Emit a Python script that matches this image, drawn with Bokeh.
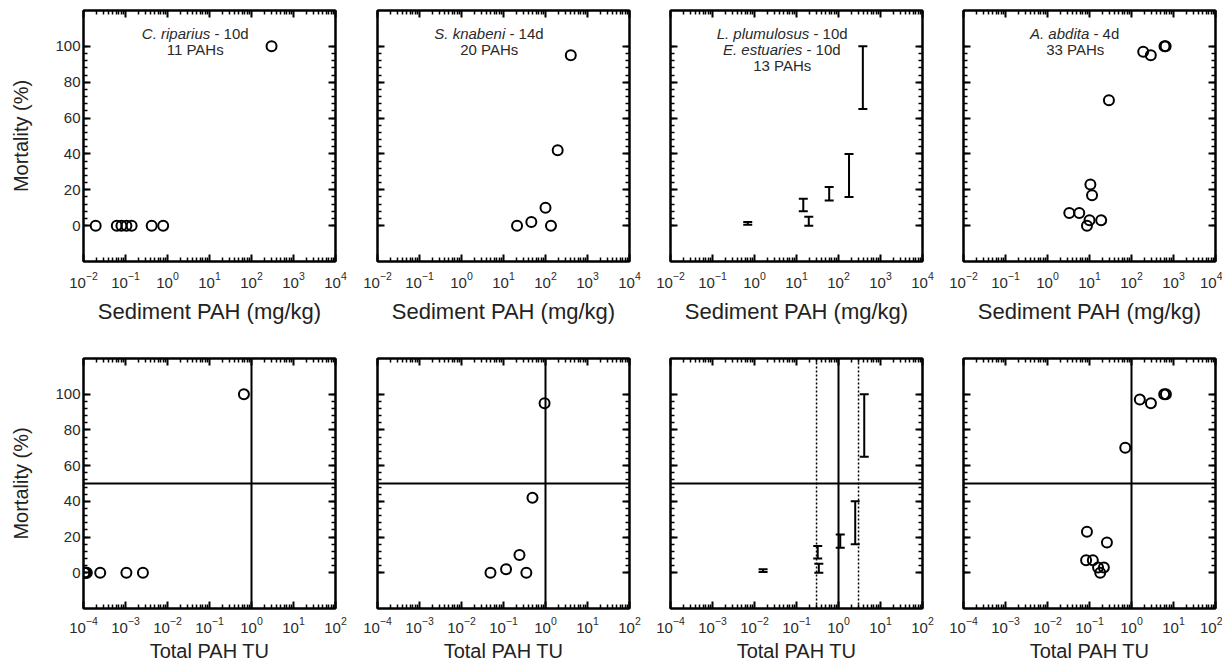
from bokeh.plotting import figure
from bokeh.layouts import column, row
from bokeh.models import (FixedTicker, LogAxis, LinearAxis, Span, Label,
                          Whisker, TeeHead, ColumnDataSource)
from bokeh.embed import file_html
from bokeh.resources import INLINE

FONT = "Liberation Sans"

# ---------------- data ----------------
sed_range = (1e-2, 1e4)
tu_range = (1e-4, 1e2)
sed_ticks = [1e-2, 1e-1, 1e0, 1e1, 1e2, 1e3, 1e4]
tu_ticks = [1e-4, 1e-3, 1e-2, 1e-1, 1e0, 1e1, 1e2]
mort_ticks = [0, 20, 40, 60, 80, 100]
mort_minor = list(range(0, 101, 4))

# C. riparius
crip_sed_x = [0.0195, 0.062, 0.08, 0.105, 0.14, 0.42, 0.79, 300]
crip_sed_y = [0, 0, 0, 0, 0, 0, 0, 100]
crip_tu_x = [1.05e-4, 1.1e-4, 1.15e-4, 1.2e-4, 2.5e-4, 1.05e-3, 2.6e-3, 0.66]
crip_tu_y = [0, 0, 0, 0, 0, 0, 0, 100]

# S. knabeni
skn_sed_x = [21, 46, 100, 135, 195, 400]
skn_sed_y = [0, 2, 10, 0, 42, 95]
skn_tu_x = [0.049, 0.115, 0.24, 0.35, 0.49, 0.95]
skn_tu_y = [0, 2, 10, 0, 42, 95]

# L. plumulosus / E. estuaries (ranges)
lpl_sed_x = [0.69, 14.5, 19.6, 60, 178, 380]
lpl_tu_x = [0.016, 0.32, 0.34, 1.1, 2.5, 4.1]
lpl_lo = [0.5, 8, 0, 14, 16, 65]
lpl_hi = [2, 15, 5, 21.5, 40, 100]

# A. abdita
aab_sed_x = [3.3, 5.7, 8.7, 10, 10.5, 11.5, 19, 29, 190, 288, 610, 650]
aab_sed_y = [7, 7, 0, 3, 23, 17, 3, 70, 97, 95, 100, 100]
aab_tu_x = [0.083, 0.12, 0.18, 0.16, 0.087, 0.26, 0.22, 0.71, 1.58, 2.9, 6.0, 6.6]
aab_tu_y = [7, 7, 0, 3, 23, 17, 3, 70, 97, 95, 100, 100]

tu_thresholds = [0.3, 3.0]


def log_minor(lo_exp, hi_exp):
    return [m * 10.0 ** e for e in range(lo_exp, hi_exp) for m in range(2, 10)]


def style_axis(ax, labels):
    ax.axis_line_width = 2
    ax.axis_line_color = "black"
    ax.major_tick_in = 7
    ax.major_tick_out = 0
    ax.minor_tick_in = 4
    ax.minor_tick_out = 0
    ax.major_tick_line_width = 2
    ax.minor_tick_line_width = 1.5
    ax.major_tick_line_color = "black"
    ax.minor_tick_line_color = "black"
    ax.major_label_text_font = FONT
    ax.major_label_text_color = "#2a2a2a"
    if labels:
        ax.major_label_text_font_size = "15px"
    else:
        ax.major_label_text_font_size = "1px"
        ax.major_label_text_alpha = 0
        ax.major_label_standoff = 0


def make_panel(top_row, col, xlabel):
    if top_row:
        xr, xt, xm = sed_range, sed_ticks, log_minor(-2, 4)
        b_top, b_bottom, fh = 10, 80, 251
        lab_size, lab_so, tick_so = "22px", 8, 10
    else:
        xr, xt, xm = tu_range, tu_ticks, log_minor(-4, 2)
        b_top, b_bottom, fh = 17, 58, 250
        lab_size, lab_so, tick_so = "20px", 4, 8
    b_left = 83 if col == 0 else 21
    b_right = 7 if col == 3 else (21 if col == 0 else 20)
    p = figure(x_axis_type="log", x_range=xr, y_range=(-20, 120),
               frame_width=252, frame_height=fh,
               min_border_left=b_left, min_border_right=b_right,
               min_border_top=b_top, min_border_bottom=b_bottom,
               output_backend="svg", toolbar_location=None)
    p.grid.visible = False
    p.outline_line_color = "black"
    p.outline_line_width = 2
    p.background_fill_color = "white"
    p.border_fill_color = "white"

    xa = p.xaxis[0]
    xa.ticker = FixedTicker(ticks=xt, minor_ticks=xm)
    style_axis(xa, True)
    xa.major_label_standoff = tick_so
    xa.axis_label = xlabel
    xa.axis_label_text_font = FONT
    xa.axis_label_text_font_size = lab_size
    xa.axis_label_text_font_style = "normal"
    xa.axis_label_text_color = "#222222"
    xa.axis_label_standoff = lab_so

    ya = p.yaxis[0]
    ya.ticker = FixedTicker(ticks=mort_ticks, minor_ticks=mort_minor)
    style_axis(ya, col == 0)
    if col == 0:
        ya.major_label_standoff = 3
        ya.axis_label = "Mortality (%)"
        ya.axis_label_text_font = FONT
        ya.axis_label_text_font_size = "20px"
        ya.axis_label_text_font_style = "normal"
        ya.axis_label_text_color = "#222222"
        ya.axis_label_standoff = 20

    top = LogAxis(ticker=FixedTicker(ticks=xt, minor_ticks=xm))
    style_axis(top, False)
    p.add_layout(top, "above")
    right = LinearAxis(ticker=FixedTicker(ticks=mort_ticks, minor_ticks=mort_minor))
    style_axis(right, False)
    p.add_layout(right, "right")

    if not top_row:
        p.add_layout(Span(location=50, dimension="width", line_color="black", line_width=2))
        p.add_layout(Span(location=1, dimension="height", line_color="black", line_width=2))
    return p


def add_circles(p, xs, ys):
    p.scatter(xs, ys, marker="circle", size=10, fill_color=None,
              line_color="black", line_width=2)


def add_ranges(p, xs, lo, hi):
    src = ColumnDataSource(dict(x=xs, lo=lo, hi=hi))
    p.add_layout(Whisker(base="x", lower="lo", upper="hi", source=src,
                         dimension="height", line_width=2, line_color="black",
                         upper_head=TeeHead(size=9, line_width=2, line_color="black"),
                         lower_head=TeeHead(size=9, line_width=2, line_color="black")))


CX = 10 ** 0.66


def add_title_line(p, y, italic, rest, offset):
    p.add_layout(Label(x=CX, y=y, text=italic, text_font=FONT, text_font_size="15px",
                       text_font_style="italic", text_align="right", text_baseline="middle",
                       x_offset=offset, text_color="#2a2a2a"))
    p.add_layout(Label(x=CX, y=y, text="\u00a0" + rest, text_font=FONT, text_font_size="15px",
                       text_align="left", text_baseline="middle",
                       x_offset=offset, text_color="#2a2a2a"))


def add_center_line(p, y, txt):
    p.add_layout(Label(x=CX, y=y, text=txt, text_font=FONT, text_font_size="15px",
                       text_align="center", text_baseline="middle", text_color="#2a2a2a"))


SED = "Sediment PAH (mg/kg)"
TU = "Total PAH TU"

# top row
p1 = make_panel(True, 0, SED)
add_circles(p1, crip_sed_x, crip_sed_y)
add_title_line(p1, 107.2, "C. riparius", "- 10d", 15)
add_center_line(p1, 98, "11 PAHs")

p2 = make_panel(True, 1, SED)
add_circles(p2, skn_sed_x, skn_sed_y)
add_title_line(p2, 107.2, "S. knabeni", "- 14d", 16)
add_center_line(p2, 98, "20 PAHs")

p3 = make_panel(True, 2, SED)
add_ranges(p3, lpl_sed_x, lpl_lo, lpl_hi)
add_title_line(p3, 107.2, "L. plumulosus", "- 10d", 27)
add_title_line(p3, 98.2, "E. estuaries", "- 10d", 20)
add_center_line(p3, 89.2, "13 PAHs")

p4 = make_panel(True, 3, SED)
add_circles(p4, aab_sed_x, aab_sed_y)
add_title_line(p4, 107.2, "A. abdita", "- 4d", 14)
add_center_line(p4, 98, "33 PAHs")

# bottom row
p5 = make_panel(False, 0, TU)
add_circles(p5, crip_tu_x, crip_tu_y)

p6 = make_panel(False, 1, TU)
add_circles(p6, skn_tu_x, skn_tu_y)

p7 = make_panel(False, 2, TU)
for t in tu_thresholds:
    p7.add_layout(Span(location=t, dimension="height", line_color="black",
                       line_width=1.5, line_dash="2 2"))
add_ranges(p7, lpl_tu_x, lpl_lo, lpl_hi)

p8 = make_panel(False, 3, TU)
add_circles(p8, aab_tu_x, aab_tu_y)

layout = column(row(p1, p2, p3, p4), row(p5, p6, p7, p8))

open("out.html", "w").write(file_html(layout, INLINE))
